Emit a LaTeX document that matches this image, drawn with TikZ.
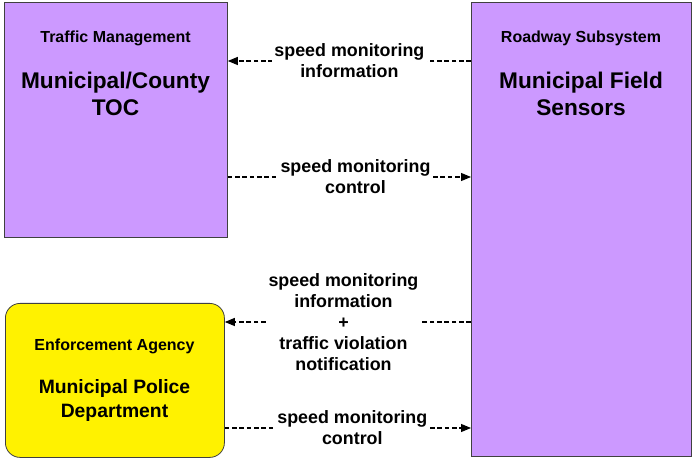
\documentclass[tikz,border=0pt]{standalone}
\usepackage{fontspec}
\setmainfont{Liberation Sans}
\usetikzlibrary{arrows.meta,positioning}

\begin{document}
\begin{tikzpicture}[x=0.75pt, y=-0.75pt, >={Triangle[length=7.5pt,width=6pt]},
  sys/.style={draw=black!75, line width=0.6pt, fill=purple!40!blue!20!white, anchor=north west, inner sep=0pt},
  term/.style={sys, fill=yellow, rounded corners=11pt},
  cat/.style={font=\fontsize{12}{14}\selectfont\bfseries, align=center},
  big/.style={font=\fontsize{17}{20}\selectfont\bfseries, align=center},
  mid/.style={font=\fontsize{14.5}{18}\selectfont\bfseries, align=center},
  lbl/.style={font=\fontsize{13.4}{15.75}\selectfont\bfseries, align=center, fill=white, inner xsep=2pt, inner ysep=0pt},
  flow/.style={->, dashed, dash pattern=on 3.5pt off 2pt, line width=0.8pt}]
\definecolor{lilac}{RGB}{204,153,255}
\useasboundingbox (0,0) rectangle (692,459);
% boxes
\node[sys, fill=lilac, minimum width=167.25pt, minimum height=176.25pt] (toc) at (4,2) {};
\node[sys, fill=lilac, minimum width=165pt, minimum height=340.5pt] (sensors) at (471,2) {};
\node[term, minimum width=164.25pt, minimum height=115.5pt] (police) at (5,303) {};
% titles
\node[cat] (toccat) at (115.5,38) {Traffic Management};
\node[big] (tocname) at (115.5,94) {Municipal/County\\TOC};
\node[cat] (sencat) at (581,38) {Roadway Subsystem};
\node[big] (senname) at (581,94) {Municipal Field\\Sensors};
\node[cat] (polcat) at (114.5,346) {Enforcement Agency};
\node[mid] (polname) at (114.5,401) {Municipal Police\\Department};
% flows
\coordinate (f1) at (0,61);
\coordinate (f2) at (0,177);
\coordinate (f3) at (0,322);
\coordinate (f4) at (0,428);
\draw[flow] (sensors.west |- f1) -- node[lbl]{speed monitoring\\information} (toc.east |- f1);
\draw[flow] (toc.east |- f2) -- node[lbl, pos=0.525]{speed monitoring\\control} (sensors.west |- f2);
\draw[flow] (sensors.west |- f3) -- node[lbl, pos=0.518]{speed monitoring\\information\\+\\traffic violation\\notification} (police.east |- f3);
\draw[flow] (police.east |- f4) -- node[lbl, pos=0.518]{speed monitoring\\control} (sensors.west |- f4);
\end{tikzpicture}
\end{document}
